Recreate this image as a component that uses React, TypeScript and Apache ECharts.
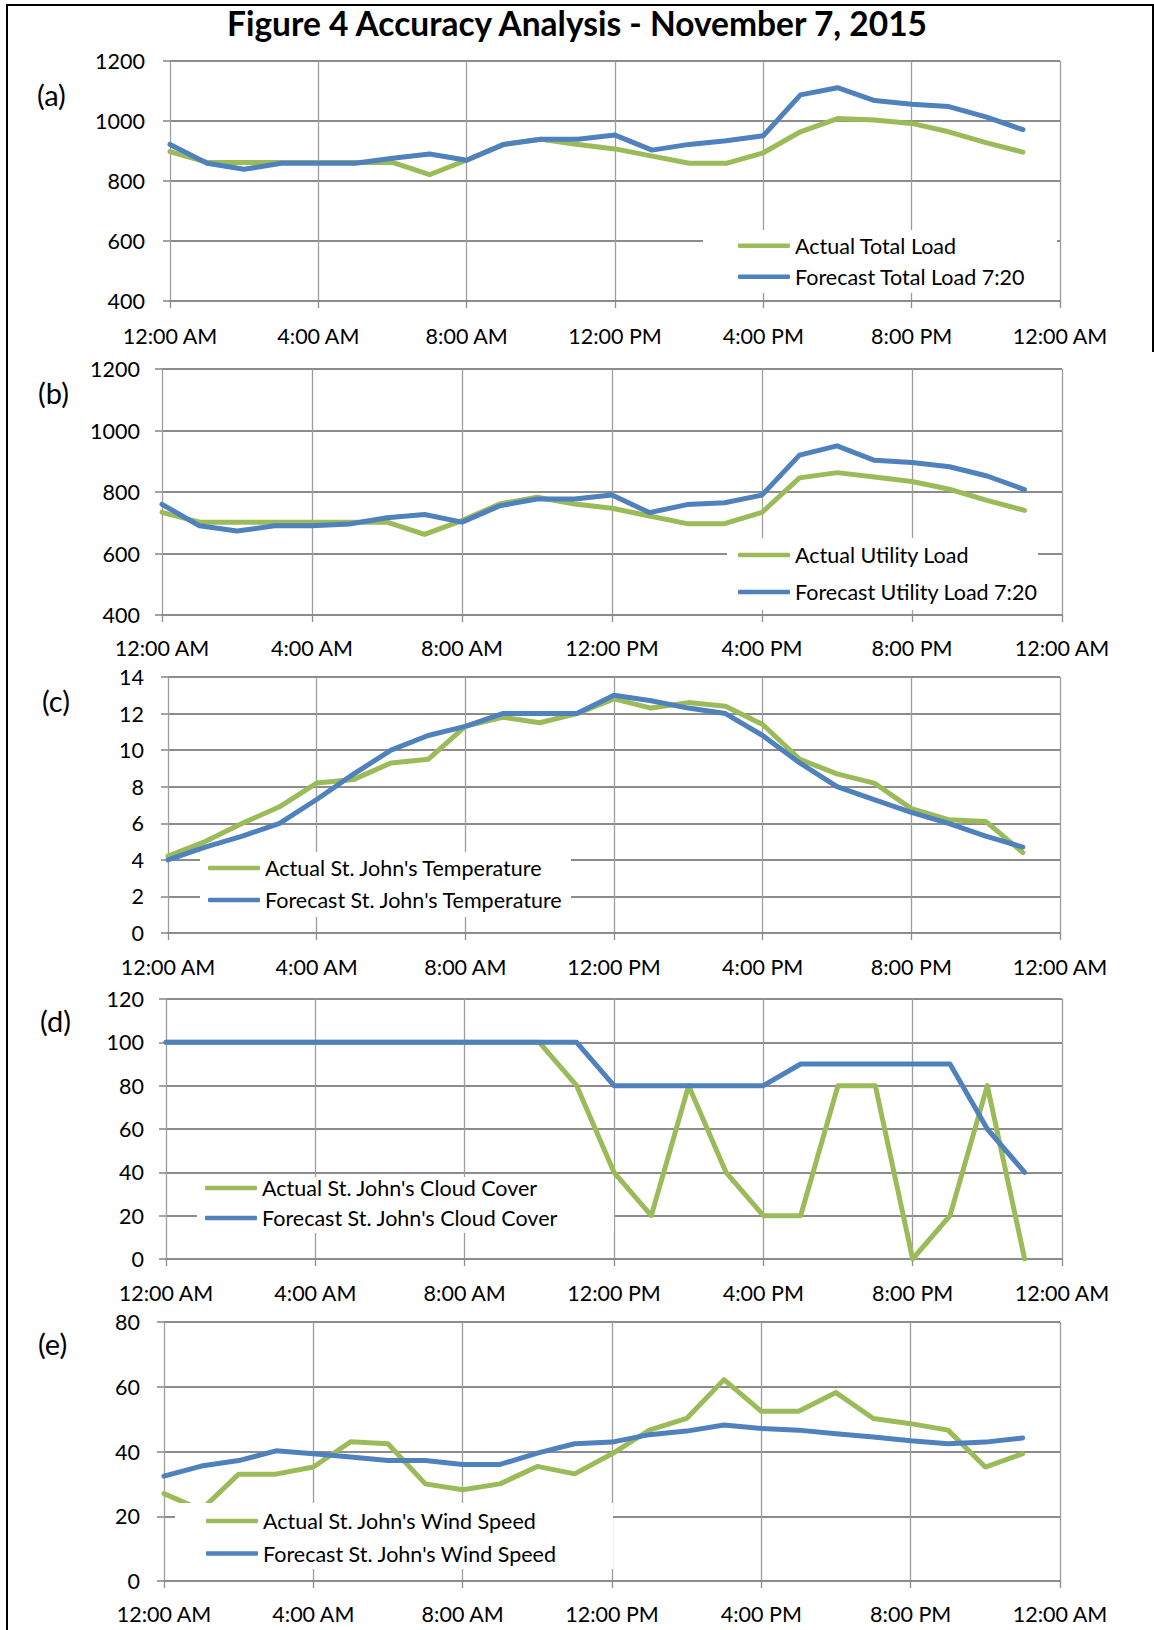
import React, { useEffect, useRef } from "react";
import * as echarts from "echarts";

const hours = [0, 1, 2, 3, 4, 5, 6, 7, 8, 9, 10, 11, 12, 13, 14, 15, 16, 17, 18, 19, 20, 21, 22, 23];
const xTickLabels = ["12:00 AM", "4:00 AM", "8:00 AM", "12:00 PM", "4:00 PM", "8:00 PM", "12:00 AM"];

const actualTotalLoad = [898, 862, 862, 862, 862, 862, 862, 821, 870, 922, 939, 922, 907, 883, 859, 859, 894, 964, 1008, 1003, 992, 964, 928, 896];
const forecastTotalLoad = [922, 859, 839, 859, 859, 859, 876, 890, 869, 922, 939, 939, 953, 903, 922, 934, 951, 1087, 1111, 1068, 1056, 1048, 1014, 971];

const actualUtilityLoad = [734, 702, 702, 702, 702, 702, 702, 662, 707, 761, 783, 761, 747, 722, 697, 697, 734, 846, 863, 849, 834, 809, 773, 740];
const forecastUtilityLoad = [760, 690, 673, 690, 690, 696, 716, 727, 702, 755, 777, 777, 790, 733, 759, 765, 790, 920, 950, 903, 896, 882, 852, 808];

const actualTemperature = [4.2, 5.0, 6.0, 6.9, 8.2, 8.4, 9.3, 9.5, 11.3, 11.8, 11.5, 12.0, 12.8, 12.3, 12.6, 12.4, 11.4, 9.5, 8.7, 8.2, 6.8, 6.2, 6.1, 4.4];
const forecastTemperature = [4.0, 4.7, 5.3, 6.0, 7.3, 8.7, 10.0, 10.8, 11.3, 12.0, 12.0, 12.0, 13.0, 12.7, 12.3, 12.0, 10.8, 9.3, 8.0, 7.3, 6.6, 6.0, 5.3, 4.7];

const actualCloudCover = [100, 100, 100, 100, 100, 100, 100, 100, 100, 100, 100, 80, 40, 20, 80, 40, 20, 20, 80, 80, 0, 20, 80, 0];
const forecastCloudCover = [100, 100, 100, 100, 100, 100, 100, 100, 100, 100, 100, 100, 80, 80, 80, 80, 80, 90, 90, 90, 90, 90, 60, 40];

const actualWindSpeed = [27, 22, 33, 33, 35.2, 43, 42.4, 30, 28.2, 30, 35.4, 33.1, 39.3, 46.6, 50.2, 62.2, 52.4, 52.4, 58.2, 50.2, 48.6, 46.6, 35.2, 39.3];
const forecastWindSpeed = [32.4, 35.5, 37.2, 40.2, 39.3, 38.3, 37.2, 37.2, 36.0, 36.0, 39.5, 42.4, 42.9, 45.2, 46.3, 48.2, 47.1, 46.6, 45.5, 44.5, 43.3, 42.4, 42.9, 44.2];

const titleText = "Figure 4 Accuracy Analysis - November 7, 2015";

const GREEN = "#9BBB59";
const BLUE = "#4F81BD";
const FONT = "Lato";
const FS = 21.5;

const panels = [
  {
    tag: "(a)", tagX: 37, tagY: 94,
    grid: { left: 170, top: 61, width: 890, height: 240 },
    y: { min: 400, max: 1200, interval: 200 }, yMargin: 25, xMargin: 24,
    names: ["Actual Total Load", "Forecast Total Load 7:20"],
    values: [actualTotalLoad, forecastTotalLoad],
    legend: { left: 738, top: 234.7, gap: 9 },
    box: [703, 230, 354, 63],
  },
  {
    tag: "(b)", tagX: 38, tagY: 392,
    grid: { left: 162, top: 369, width: 900, height: 246 },
    y: { min: 400, max: 1200, interval: 200 }, yMargin: 22, xMargin: 22,
    names: ["Actual Utility Load", "Forecast Utility Load 7:20"],
    values: [actualUtilityLoad, forecastUtilityLoad],
    legend: { left: 738, top: 544, gap: 15 },
    box: [727, 538, 311, 72],
  },
  {
    tag: "(c)", tagX: 42, tagY: 700,
    grid: { left: 168, top: 677, width: 892, height: 256 },
    y: { min: 0, max: 14, interval: 2 }, yMargin: 24, xMargin: 23,
    names: ["Actual St. John's Temperature", "Forecast St. John's Temperature"],
    values: [actualTemperature, forecastTemperature],
    legend: { left: 208, top: 857, gap: 10 },
    box: [200, 852, 371, 65],
  },
  {
    tag: "(d)", tagX: 40, tagY: 1020,
    grid: { left: 166, top: 999, width: 896, height: 260 },
    y: { min: 0, max: 120, interval: 20 }, yMargin: 22, xMargin: 23,
    names: ["Actual St. John's Cloud Cover", "Forecast St. John's Cloud Cover"],
    values: [actualCloudCover, forecastCloudCover],
    legend: { left: 205, top: 1177, gap: 8 },
    box: [197, 1177, 417, 56],
  },
  {
    tag: "(e)", tagX: 38, tagY: 1343,
    grid: { left: 164, top: 1322, width: 896, height: 259 },
    y: { min: 0, max: 80, interval: 20 }, yMargin: 24, xMargin: 22,
    names: ["Actual St. John's Wind Speed", "Forecast St. John's Wind Speed"],
    values: [actualWindSpeed, forecastWindSpeed],
    legend: { left: 206, top: 1510, gap: 10.6 },
    box: [175, 1503, 438, 66],
  },
];

function buildOption() {
  const grids: any[] = [];
  const xAxes: any[] = [];
  const yAxes: any[] = [];
  const series: any[] = [];
  const legends: any[] = [];
  const graphics: any[] = [];
  const hGrid = "#8c8c8c";
  const vGrid = "#9d9d9d";

  panels.forEach((p, i) => {
    grids.push({ ...p.grid, containLabel: false });
    xAxes.push({
      type: "value",
      gridIndex: i,
      min: 0,
      max: 24,
      interval: 4,
      axisLine: { show: true, lineStyle: { color: hGrid, width: 2 } },
      axisTick: { show: true, length: 7, lineStyle: { color: hGrid, width: 1.3 } },
      splitLine: { show: true, lineStyle: { color: vGrid, width: 1.3 } },
      axisLabel: {
        show: true,
        margin: p.xMargin,
        fontSize: FS,
        lineHeight: 22,
        fontFamily: FONT,
        color: "#000",
        showMinLabel: true,
        showMaxLabel: true,
        formatter: (v: number) => xTickLabels[Math.round(v / 4)] ?? "",
      },
    });
    yAxes.push({
      type: "value",
      gridIndex: i,
      min: p.y.min,
      max: p.y.max,
      interval: p.y.interval,
      axisLine: { show: false },
      axisTick: { show: true, length: 7, lineStyle: { color: hGrid, width: 1.6 } },
      splitLine: { show: true, lineStyle: { color: hGrid, width: 1.8 } },
      axisLabel: {
        margin: p.yMargin,
        fontSize: FS,
        fontFamily: FONT,
        color: "#000",
        formatter: (v: number) => String(v),
      },
    });
    [GREEN, BLUE].forEach((c, k) => {
      series.push({
        type: "line",
        name: p.names[k],
        xAxisIndex: i,
        yAxisIndex: i,
        data: hours.map((h, j) => [h, p.values[k][j]]),
        symbol: "none",
        showSymbol: false,
        lineStyle: { color: c, width: 5, cap: "round", join: "round" },
        itemStyle: { color: c },
        z: 2 + k * 0.1,
      });
    });
    legends.push({
      show: true,
      orient: "vertical",
      left: p.legend.left,
      top: p.legend.top,
      padding: 0,
      itemGap: p.legend.gap,
      itemWidth: 52,
      itemHeight: 4.5,
      selectedMode: false,
      z: 5,
      data: p.names.map((n) => ({ name: n, icon: "roundRect" })),
      textStyle: { fontSize: FS, lineHeight: 22, fontFamily: FONT, color: "#000", padding: 0 },
    });
    graphics.push({
      type: "rect",
      z: 4,
      shape: { x: p.box[0], y: p.box[1], width: p.box[2], height: p.box[3] },
      style: { fill: "#fff" },
    });
    graphics.push({
      type: "text",
      z: 4,
      x: p.tagX,
      y: p.tagY,
      style: {
        text: p.tag,
        font: `29px ${FONT}`,
        fill: "#000",
        align: "left",
        verticalAlign: "middle",
      },
    });
  });

  graphics.push({
    type: "text",
    z: 4,
    x: 577,
    y: 23,
    style: {
      text: titleText,
      font: `bold 33.5px ${FONT}`,
      fill: "#000",
      align: "center",
      verticalAlign: "middle",
    },
  });
  // frame lines
  graphics.push({ type: "line", z: 6, shape: { x1: 7, y1: 5, x2: 1154, y2: 5 }, style: { stroke: "#000", lineWidth: 2 } });
  graphics.push({ type: "line", z: 6, shape: { x1: 7, y1: 4, x2: 7, y2: 1630 }, style: { stroke: "#000", lineWidth: 2 } });
  graphics.push({ type: "line", z: 6, shape: { x1: 1153, y1: 4, x2: 1153, y2: 352 }, style: { stroke: "#000", lineWidth: 2 } });

  return {
    animation: false,
    backgroundColor: "#fff",
    grid: grids,
    xAxis: xAxes,
    yAxis: yAxes,
    series,
    legend: legends,
    graphic: graphics,
  };
}

export default function App() {
  const ref = useRef<HTMLDivElement>(null);
  useEffect(() => {
    document.body.style.margin = "0";
    document.body.style.overflow = "hidden";
    if (!ref.current) return;
    const chart = echarts.init(ref.current, undefined, { renderer: "svg" });
    chart.setOption(buildOption() as any);
    return () => chart.dispose();
  }, []);
  return <div ref={ref} style={{ width: 1154, height: 1630 }} />;
}
